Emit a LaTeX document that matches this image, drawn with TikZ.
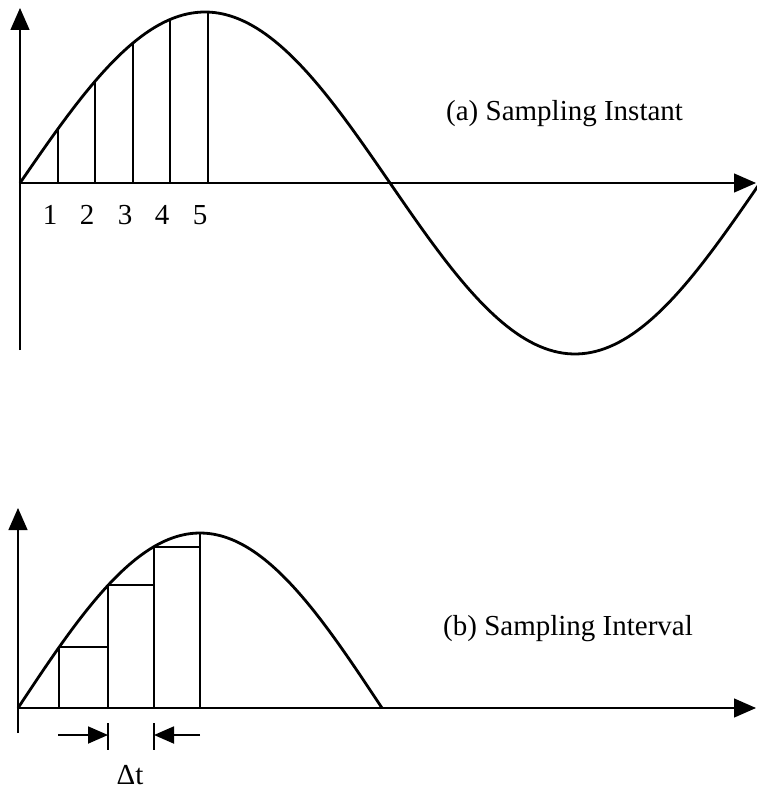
\documentclass[tikz,border=0pt]{standalone}
\usepackage{fontspec}
\setmainfont{Liberation Serif}
\usetikzlibrary{arrows.meta}

\begin{document}
\begin{tikzpicture}[x=1pt, y=-1pt,
    font=\fontsize{29}{34}\selectfont,
    axis/.style={line width=1.3pt, -{Triangle[length=22pt, width=19pt]}},
    wave/.style={line width=2.8pt, line join=round},
    samp/.style={line width=2pt},
    num/.style={inner sep=0pt},
    lbl/.style={inner sep=0pt, anchor=west},
    gap/.style={line width=1.8pt, -{Triangle[length=20pt, width=17pt]}},
    stub/.style={line width=1.3pt},
  ]
  \useasboundingbox (0,0) rectangle (756,791);
  % (a) sampling instant
  \coordinate (oa) at (20,183);
  \coordinate (ya) at (20,8);
  \coordinate (yb) at (20,350);
  \coordinate (xa) at (756,183);
  \draw[axis] (yb) -- (ya);
  \draw[axis] (oa) -- (xa);
  \draw[wave] plot[domain=20:758, samples=160] (\x, {183-171*sin((\x-20)/740*360)});
  \foreach \sx/\n in {58/1, 95/2, 133/3, 170/4, 208/5} {
    \draw[samp] (\sx,183) -- (\sx, {183-171*sin((\sx-20)/740*360)});
    \node[num] (n\n) at (\sx-8,215) {\n};
  }
  \node[lbl] (capa) at (446,114) {(a) Sampling Instant};
  % (b) sampling interval
  \coordinate (ob) at (18,708);
  \coordinate (yc) at (18,508);
  \coordinate (yd) at (18,733);
  \coordinate (xb) at (756,708);
  \draw[axis] (yd) -- (yc);
  \draw[axis] (ob) -- (xb);
  \draw[wave] plot[domain=18:382, samples=100] (\x, {708-175*sin((\x-18)/364*180)});
  \foreach \lx/\rx in {59/108, 108/154, 154/200} {
    \draw[samp] (\lx,708) -- (\lx, {708-175*sin((\lx-18)/364*180)}) -- (\rx, {708-175*sin((\lx-18)/364*180)});
  }
  \draw[samp] (200,708) -- (200,533);
  \node[lbl] (capb) at (443,629) {(b) Sampling Interval};
  % delta t
  \coordinate (tl) at (108,723);
  \coordinate (tl2) at (108,750);
  \coordinate (tr) at (154,723);
  \coordinate (tr2) at (154,750);
  \coordinate (al) at (58,735);
  \coordinate (ar) at (200,735);
  \draw[stub] (tl) -- (tl2);
  \draw[stub] (tr) -- (tr2);
  \draw[gap] (al) -- (tl |- al);
  \draw[gap] (ar) -- (tr |- ar);
  \node[num] (dt) at (130,775) {Δt};
\end{tikzpicture}
\end{document}
